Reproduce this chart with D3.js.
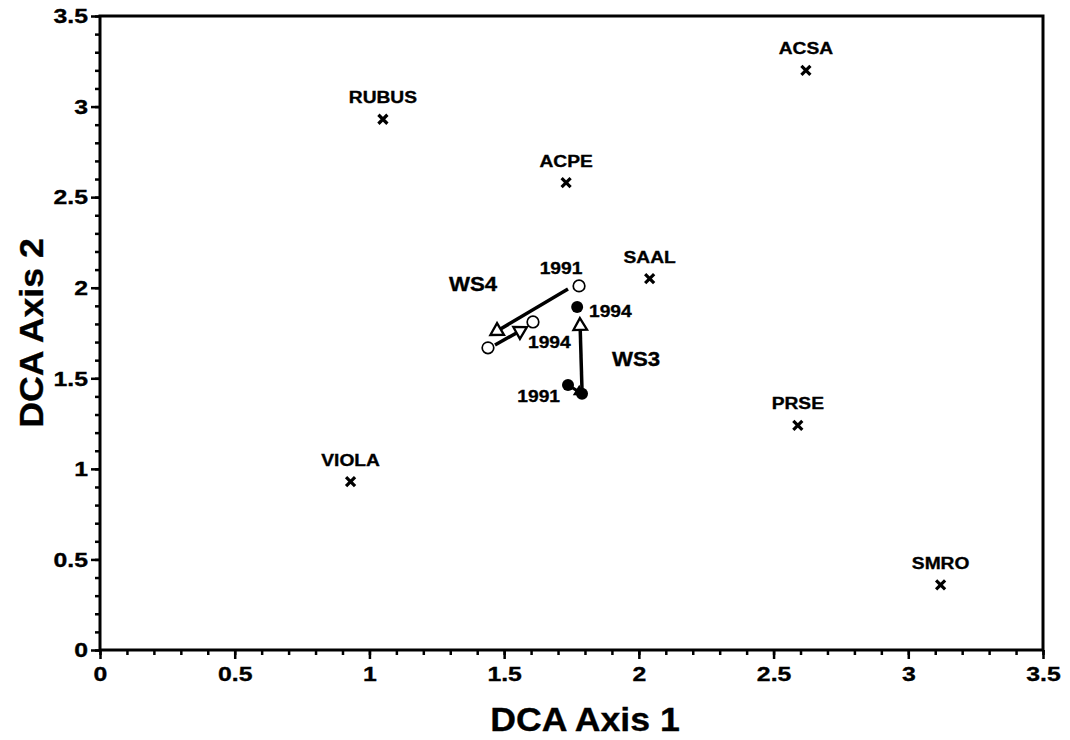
<!DOCTYPE html>
<html>
<head>
<meta charset="utf-8">
<script src="https://cdn.jsdelivr.net/npm/d3@7"></script>
<style>
body { margin: 0; background: #fff; }
text { font-family: "Liberation Sans", Arial, sans-serif; font-weight: bold; fill: #000; stroke: #000; stroke-width: 0.35px; }
</style>
</head>
<body>
<svg id="chart" width="1070" height="740"></svg>
<script>
// species scores
var speciesNames = ["ACSA", "RUBUS", "ACPE", "SAAL", "PRSE", "VIOLA", "SMRO"];
var speciesX = [2.62, 1.05, 1.73, 2.04, 2.59, 0.93, 3.12];
var speciesY = [3.20, 2.93, 2.58, 2.05, 1.24, 0.93, 0.36];

// watershed sample scores
var ws4X = [1.778, 1.607, 1.440];
var ws4Y = [2.010, 1.811, 1.668];
var ws3X = [1.737, 1.789, 1.771];
var ws3Y = [1.463, 1.414, 1.894];

// trajectory arrows [x0, y0, x1, y1]
var arrows = [
    [1.737, 1.993, 1.474, 1.761],
    [1.466, 1.684, 1.559, 1.761],
    [1.737, 1.463, 1.778, 1.425],
    [1.789, 1.436, 1.782, 1.789]
];

var xTicks = [0, 0.5, 1, 1.5, 2, 2.5, 3, 3.5];
var yTicks = [0, 0.5, 1, 1.5, 2, 2.5, 3, 3.5];

var svg = d3.select("#chart"),
    margin = { top: 16, right: 27, bottom: 90, left: 100 },
    width = 1070 - margin.left - margin.right,
    height = 740 - margin.top - margin.bottom,
    g = svg.append("g").attr("transform", "translate(" + margin.left + "," + margin.top + ")");

var x = d3.scaleLinear().domain([0, 3.5]).range([0, width]);
var y = d3.scaleLinear().domain([0, 3.5]).range([height, 0]);

var minor = d3.range(0, 3.51, 0.1);

// the original font is a wide Helvetica, so stretch text a bit
function stretch(sx) {
    return function (t) { t.attr("transform", "scale(" + sx + ",1)"); };
}

// minor ticks
g.append("g")
    .attr("transform", "translate(0," + height + ")")
    .call(d3.axisBottom(x).tickValues(minor).tickSize(5).tickFormat(""))
    .call(function (a) { a.select(".domain").remove(); a.selectAll("line").attr("stroke-width", 2.5); });
g.append("g")
    .call(d3.axisLeft(y).tickValues(minor).tickSize(5).tickFormat(""))
    .call(function (a) { a.select(".domain").remove(); a.selectAll("line").attr("stroke-width", 2.5); });

// major ticks
g.append("g")
    .attr("transform", "translate(0," + height + ")")
    .call(d3.axisBottom(x).tickValues(xTicks).tickSize(9).tickPadding(7).tickFormat(d3.format("")))
    .call(function (a) {
        a.select(".domain").remove();
        a.selectAll("line").attr("stroke-width", 2.5);
        a.selectAll("text").style("font-size", "21px").call(stretch(1.18));
    });
g.append("g")
    .call(d3.axisLeft(y).tickValues(yTicks).tickSize(9).tickPadding(3).tickFormat(d3.format("")))
    .call(function (a) {
        a.select(".domain").remove();
        a.selectAll("line").attr("stroke-width", 2.5);
        a.selectAll("text").style("font-size", "21px").attr("x", -12 / 1.18).call(stretch(1.18));
    });

// frame
g.append("rect")
    .attr("width", width).attr("height", height)
    .attr("fill", "none").attr("stroke", "#000").attr("stroke-width", 3);

// axis titles
svg.append("text")
    .attr("transform", "translate(585,731) scale(1.08,1)")
    .attr("text-anchor", "middle").style("font-size", "33px")
    .text("DCA Axis 1");
svg.append("text")
    .attr("transform", "translate(43," + (margin.top + height / 2) + ") rotate(-90) scale(1.08,1)")
    .attr("text-anchor", "middle").style("font-size", "33px")
    .text("DCA Axis 2");

// species crosses
var sp = g.selectAll(".sp").data(speciesNames).enter().append("g")
    .attr("transform", function (d, i) { return "translate(" + x(speciesX[i]) + "," + y(speciesY[i]) + ")"; });
sp.append("path")
    .attr("d", "M-4.5,-4.5L4.5,4.5M-4.5,4.5L4.5,-4.5")
    .attr("stroke", "#000").attr("stroke-width", 3.2);
sp.append("text")
    .attr("transform", "translate(0,-16) scale(1.13,1)")
    .attr("text-anchor", "middle").style("font-size", "17px")
    .text(function (d) { return d; });

// arrows
var tri = d3.symbol().type(d3.symbolTriangle);
arrows.forEach(function (a, i) {
    var x0 = x(a[0]), y0 = y(a[1]), x1 = x(a[2]), y1 = y(a[3]);
    var ang = Math.atan2(y1 - y0, x1 - x0) * 180 / Math.PI + 90;
    g.append("line")
        .attr("x1", x0).attr("y1", y0).attr("x2", x1).attr("y2", y1)
        .attr("stroke", "#000").attr("stroke-width", i == 2 ? 3 : 3.5);
    g.append("path")
        .attr("d", tri.size(i == 2 ? 30 : 80)())
        .attr("transform", "translate(" + x1 + "," + y1 + ") rotate(" + ang + ")")
        .attr("fill", "#fff").attr("stroke", "#000").attr("stroke-width", 2.3);
});

// sample points
g.selectAll(".ws4").data(ws4X).enter().append("circle")
    .attr("cx", function (d) { return x(d); })
    .attr("cy", function (d, i) { return y(ws4Y[i]); })
    .attr("r", 5.8).attr("fill", "#fff").attr("stroke", "#000").attr("stroke-width", 1.7);
g.selectAll(".ws3").data(ws3X).enter().append("circle")
    .attr("cx", function (d) { return x(d); })
    .attr("cy", function (d, i) { return y(ws3Y[i]); })
    .attr("r", 6).attr("fill", "#000");

// annotations
function note(txt, px, py, size, anchor, sx) {
    g.append("text")
        .attr("transform", "translate(" + (px - margin.left) + "," + (py - margin.top) + ") scale(" + sx + ",1)")
        .attr("text-anchor", anchor).style("font-size", size + "px")
        .text(txt);
}
note("WS4", 473, 291, 21, "middle", 1.06);
note("WS3", 636, 366, 21, "middle", 1.06);
note("1991", 561, 274, 17, "middle", 1.13);
note("1994", 528, 348, 17, "start", 1.13);
note("1994", 589, 317, 17, "start", 1.13);
note("1991", 560, 402, 17, "end", 1.13);
</script>
</body>
</html>
